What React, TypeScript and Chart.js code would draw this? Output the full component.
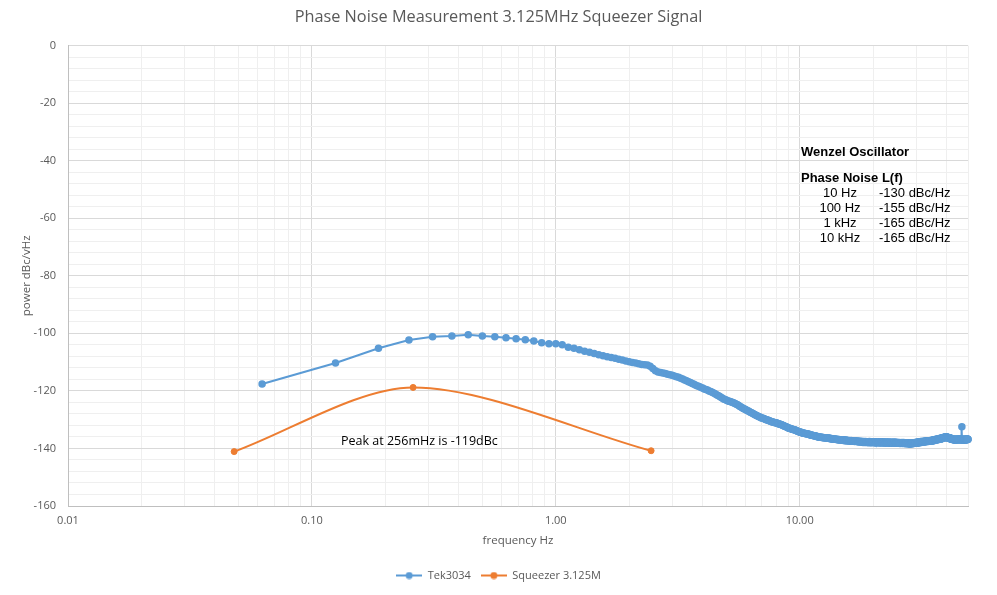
import React, { useEffect, useRef } from "react";
import Chart from "chart.js/auto";

// Tek3034 trace: one reading every 0.0625 Hz, first reading at 0.0625 Hz
const TEK_STEP = 0.0625;
const tekPower = [
  -117.6, -110.3, -105.2, -102.3, -101.2, -100.9, -100.5, -100.9, -101.2, -101.5, -101.9, -102.2, -102.7, -103.3, -103.6, -103.6,
  -104.0, -104.8, -105.2, -105.7, -106.2, -106.6, -107.0, -107.4, -107.8, -108.1, -108.4, -108.7, -109.0, -109.3, -109.6, -109.9,
  -110.1, -110.3, -110.6, -110.8, -110.9, -111.0, -111.4, -112.2, -113.0, -113.4, -113.6, -113.8, -114.0, -114.2, -114.4, -114.6,
  -114.8, -115.1, -115.3, -115.6, -115.9, -116.2, -116.5, -116.8, -117.1, -117.4, -117.7, -118.0, -118.3, -118.5, -118.8, -119.0,
  -119.3, -119.5, -119.7, -120.0, -120.2, -120.5, -120.7, -121.0, -121.3, -121.6, -121.9, -122.2, -122.5, -122.8, -123.0, -123.2,
  -123.4, -123.6, -123.7, -123.9, -124.0, -124.2, -124.4, -124.6, -124.8, -125.1, -125.4, -125.6, -125.9, -126.1, -126.3, -126.5,
  -126.7, -126.9, -127.1, -127.3, -127.5, -127.7, -127.9, -128.1, -128.3, -128.5, -128.6, -128.8, -129.0, -129.1, -129.3, -129.4,
  -129.5, -129.6, -129.8, -129.9, -130.0, -130.1, -130.2, -130.4, -130.5, -130.6, -130.7, -130.8, -130.9, -131.0, -131.1, -131.1,
  -131.2, -131.3, -131.4, -131.5, -131.6, -131.7, -131.8, -131.9, -132.0, -132.2, -132.3, -132.4, -132.5, -132.6, -132.8, -132.9,
  -133.0, -133.1, -133.1, -133.2, -133.3, -133.4, -133.4, -133.5, -133.6, -133.7, -133.8, -133.9, -134.0, -134.1, -134.2, -134.3,
  -134.4, -134.4, -134.5, -134.6, -134.6, -134.7, -134.7, -134.8, -134.8, -134.9, -134.9, -135.0, -135.0, -135.1, -135.1, -135.2,
  -135.3, -135.3, -135.4, -135.4, -135.5, -135.5, -135.6, -135.6, -135.7, -135.7, -135.8, -135.8, -135.9, -135.9, -136.0, -136.0,
  -136.0, -136.1, -136.1, -136.1, -136.2, -136.2, -136.2, -136.2, -136.3, -136.3, -136.3, -136.3, -136.4, -136.4, -136.4, -136.4,
  -136.4, -136.5, -136.5, -136.5, -136.6, -136.5, -136.6, -136.6, -136.7, -136.6, -136.7, -136.7, -136.8, -136.7, -136.8, -136.8,
  -136.8, -136.9, -136.8, -136.9, -137.0, -136.9, -137.0, -136.9, -137.0, -137.1, -137.0, -137.0, -137.1, -137.0, -137.1, -137.1,
  -137.1, -137.2, -137.1, -137.0, -137.2, -137.3, -137.2, -137.1, -137.2, -137.3, -137.2, -137.2, -137.3, -137.4, -137.2, -137.3,
  -137.3, -137.4, -137.3, -137.2, -137.4, -137.5, -137.3, -137.4, -137.5, -137.4, -137.3, -137.5, -137.6, -137.4, -137.5, -137.5,
  -137.5, -137.6, -137.4, -137.5, -137.7, -137.6, -137.5, -137.6, -137.8, -137.6, -137.5, -137.7, -137.6, -137.8, -137.7, -137.6,
  -137.6, -137.7, -137.9, -137.7, -137.6, -137.8, -137.7, -137.9, -137.8, -137.6, -137.7, -137.9, -137.8, -137.7, -137.8, -137.9,
  -137.7, -137.8, -138.0, -137.8, -137.6, -137.8, -137.9, -137.7, -137.8, -138.0, -137.9, -137.7, -137.8, -137.9, -137.8, -137.8,
  -137.9, -137.7, -137.8, -138.0, -137.9, -137.7, -137.8, -138.1, -137.9, -137.8, -137.7, -137.9, -138.0, -137.8, -137.9, -137.8,
  -137.8, -138.0, -137.9, -137.7, -137.9, -138.1, -137.8, -137.9, -138.0, -137.8, -137.7, -137.9, -138.0, -137.9, -137.8, -138.0,
  -137.9, -137.8, -138.1, -137.9, -137.8, -138.0, -138.1, -137.9, -137.8, -138.0, -137.9, -138.1, -138.0, -137.8, -137.9, -138.0,
  -138.0, -137.9, -137.8, -138.1, -138.0, -137.9, -138.2, -138.0, -137.9, -137.8, -138.0, -138.1, -137.9, -138.0, -138.1, -137.9,
  -137.9, -138.1, -138.0, -137.8, -138.0, -138.2, -138.0, -137.9, -138.1, -138.0, -137.8, -138.0, -138.1, -138.2, -137.9, -138.0,
  -138.1, -138.0, -137.9, -138.2, -138.1, -137.9, -138.0, -138.2, -138.1, -138.0, -137.9, -138.1, -138.3, -138.0, -138.1, -138.0,
  -138.0, -138.2, -138.1, -137.9, -138.1, -138.3, -138.1, -138.0, -138.2, -138.1, -137.9, -138.2, -138.3, -138.1, -138.0, -138.2,
  -138.1, -138.3, -138.0, -138.2, -138.4, -138.1, -138.0, -138.2, -138.3, -138.1, -138.2, -138.4, -138.2, -138.0, -138.2, -138.3,
  -138.2, -138.4, -138.1, -138.3, -138.5, -138.2, -138.1, -138.3, -138.2, -138.4, -138.2, -138.1, -138.3, -138.2, -138.4, -138.2,
  -138.1, -138.3, -138.2, -138.0, -138.2, -138.3, -138.1, -138.0, -138.2, -138.1, -137.9, -138.1, -138.2, -138.0, -138.1, -138.0,
  -138.0, -137.9, -138.1, -138.0, -137.8, -138.0, -138.1, -137.9, -137.8, -138.0, -137.9, -137.8, -138.0, -137.9, -137.7, -137.9,
  -137.9, -137.8, -137.7, -137.9, -137.8, -137.6, -137.8, -137.9, -137.7, -137.6, -137.8, -137.7, -137.6, -137.8, -137.7, -137.8,
  -137.7, -137.6, -137.8, -137.7, -137.5, -137.7, -137.6, -137.5, -137.7, -137.6, -137.5, -137.7, -137.6, -137.4, -137.6, -137.5,
  -137.5, -137.6, -137.4, -137.5, -137.6, -137.4, -137.3, -137.5, -137.4, -137.6, -137.5, -137.3, -137.4, -137.5, -137.3, -137.4,
  -137.4, -137.3, -137.5, -137.4, -137.2, -137.4, -137.3, -137.2, -137.4, -137.3, -137.2, -137.3, -137.4, -137.2, -137.3, -137.2,
  -137.2, -137.3, -137.1, -137.2, -137.3, -137.1, -137.0, -137.2, -137.1, -137.0, -137.2, -137.1, -137.0, -136.9, -137.1, -137.0,
  -137.0, -136.9, -137.1, -137.0, -136.8, -137.0, -136.9, -136.8, -137.0, -136.9, -136.8, -136.9, -136.7, -136.9, -136.8, -136.9,
  -136.8, -136.7, -136.9, -136.8, -136.6, -136.8, -136.7, -136.6, -136.8, -136.7, -136.5, -136.7, -136.6, -136.5, -136.7, -136.6,
  -136.6, -136.5, -136.4, -136.6, -136.5, -136.3, -136.5, -136.4, -136.3, -136.5, -136.4, -136.2, -136.4, -136.3, -136.2, -136.4,
  -136.3, -136.2, -136.1, -136.3, -136.2, -136.0, -136.2, -136.1, -136.0, -136.2, -136.1, -136.0, -135.9, -136.1, -136.0, -136.1,
  -136.1, -136.2, -136.0, -136.2, -136.3, -136.1, -136.2, -136.3, -136.2, -136.4, -136.3, -136.2, -136.4, -136.3, -136.5, -136.4,
  -136.4, -136.5, -136.3, -136.5, -136.6, -136.4, -136.5, -136.6, -136.5, -136.7, -136.6, -136.5, -136.7, -136.6, -136.8, -136.7,
  -136.7, -136.8, -136.6, -136.8, -136.9, -136.7, -136.8, -136.9, -136.7, -136.9, -137.0, -136.8, -136.9, -137.0, -136.8, -136.9,
  -136.9, -137.0, -136.8, -136.9, -137.1, -136.9, -136.8, -137.0, -136.9, -137.1, -137.0, -136.8, -136.9, -137.0, -136.9, -137.0,
  -137.0, -136.9, -136.8, -137.0, -136.9, -136.7, -136.9, -137.0, -136.8, -136.9, -137.0, -136.8, -136.7, -136.9, -136.8, -136.9,
  -136.9, -136.8, -137.0, -136.9, -136.7, -136.9, -136.8, -137.0, -136.9, -136.8, -137.0, -136.9, -136.8, -136.9, -137.0, -136.8,
  -136.9, -136.8, -137.0, -132.5, -136.9, -136.8, -137.0, -136.9, -137.1, -136.9, -136.8, -137.0, -136.9, -137.1, -137.0, -136.9,
  -137.0, -136.9, -137.1, -137.0, -136.8, -137.0, -136.9, -137.1, -137.0, -136.8, -136.9, -137.0, -136.8, -136.9, -137.0, -136.9,
  -136.9, -136.8, -137.0, -136.9, -136.7, -136.9, -136.8, -137.0, -136.9, -136.8, -136.7, -136.9, -136.8, -136.9, -136.8, -136.8,
];

// Squeezer 3.125M: three points, smoothed
const squeezerFreq = [0.048, 0.26, 2.46];
const squeezerPower = [-141.1, -118.8, -140.8];

const seriesNames = ["Tek3034", "Squeezer 3.125M"];
const seriesColors = ["#5B9BD5", "#ED7D31"];

// x grid: 1..9 per decade, labels only on the decades
const xTicks = [
  0.01, 0.02, 0.03, 0.04, 0.05, 0.06, 0.07, 0.08, 0.09,
  0.1, 0.2, 0.3, 0.4, 0.5, 0.6, 0.7, 0.8, 0.9,
  1, 2, 3, 4, 5, 6, 7, 8, 9,
  10, 20, 30, 40, 49,
];
const xLabelled = [0.01, 0.1, 1, 10];
const X_MIN = 0.01;
const X_MAX = 49;

const Y_MIN = -160;
const Y_MAX = 0;
const Y_MINOR_STEP = 4;
const Y_LABEL_STEP = 20;

const chartTitle = "Phase Noise Measurement 3.125MHz Squeezer Signal";
const xTitle = "frequency Hz";
const yTitle = "power dBc/vHz";
const peakNote = "Peak at 256mHz is -119dBc";
const wenzelTitle = "Wenzel Oscillator";
const wenzelSubtitle = "Phase Noise L(f)";
const wenzelOffsets = ["10 Hz", "100 Hz", "1 kHz", "10 kHz"];
const wenzelLevels = ["-130 dBc/Hz", "-155 dBc/Hz", "-165 dBc/Hz", "-165 dBc/Hz"];

const GRID_MAJOR = "#d9d9d9";
const GRID_MINOR = "#efefef";
const AXIS_LINE = "#bfbfbf";
const TEXT_GREY = "#595959";
const FONT = '"Open Sans", sans-serif';

function legendIcon(color: string): HTMLCanvasElement {
  const c = document.createElement("canvas");
  c.width = 26;
  c.height = 8;
  const g = c.getContext("2d");
  if (g) {
    g.strokeStyle = color;
    g.lineWidth = 2;
    g.beginPath();
    g.moveTo(0, 4);
    g.lineTo(26, 4);
    g.stroke();
    g.fillStyle = color;
    g.beginPath();
    g.arc(13, 4, 3.5, 0, Math.PI * 2);
    g.fill();
  }
  return c;
}

const notesPlugin = {
  id: "notes",
  afterDraw(chart: Chart) {
    const ctx = chart.ctx;
    ctx.save();
    ctx.fillStyle = "#000000";
    ctx.textBaseline = "middle";
    ctx.textAlign = "left";
    ctx.font = '12.5px "Open Sans"';
    ctx.fillText(peakNote, 341, 441);

    ctx.font = 'bold 13px "Liberation Sans"';
    ctx.fillText(wenzelTitle, 801, 152);
    ctx.fillText(wenzelSubtitle, 801, 178);

    ctx.font = '13px "Liberation Sans"';
    wenzelOffsets.forEach((label, i) => {
      const y = 193.5 + i * 15.1;
      ctx.textAlign = "center";
      ctx.fillText(label, 840, y);
      ctx.textAlign = "left";
      ctx.fillText(wenzelLevels[i], 879, y);
    });
    ctx.restore();
  },
};

function PhaseNoiseChart(): JSX.Element {
  const chartRef = useRef<HTMLCanvasElement | null>(null);
  const chartInstance = useRef<Chart | null>(null);

  useEffect(() => {
    if (!chartRef.current) return;
    const ctx = chartRef.current.getContext("2d");
    if (!ctx) return;
    if (chartInstance.current) chartInstance.current.destroy();

    const icons = seriesColors.map(legendIcon);

    chartInstance.current = new Chart(ctx, {
      type: "line",
      data: {
        datasets: [
          {
            label: seriesNames[0],
            data: tekPower.map((p, i) => ({ x: (i + 1) * TEK_STEP, y: p })),
            borderColor: seriesColors[0],
            backgroundColor: seriesColors[0],
            borderWidth: 2,
            pointRadius: 3,
            pointBorderWidth: 1.5,
            tension: 0,
            clip: false,
          },
          {
            label: seriesNames[1],
            data: squeezerFreq.map((f, i) => ({ x: f, y: squeezerPower[i] })),
            borderColor: seriesColors[1],
            backgroundColor: seriesColors[1],
            borderWidth: 2,
            pointRadius: 3,
            pointBorderWidth: 1,
            tension: 0.3,
            clip: false,
          },
        ],
      },
      options: {
        animation: false,
        responsive: false,
        layout: { padding: { left: 0, right: 0, top: 0, bottom: 4 } },
        plugins: {
          title: {
            display: true,
            text: chartTitle,
            color: TEXT_GREY,
            font: { family: FONT, size: 16.3, weight: "normal" },
            padding: { top: 8, bottom: 18 },
          },
          legend: {
            position: "bottom",
            labels: {
              color: TEXT_GREY,
              font: { family: FONT, size: 11 },
              usePointStyle: true,
              pointStyleWidth: 26,
              padding: 10,
              generateLabels: (chart: Chart) =>
                Chart.defaults.plugins.legend.labels.generateLabels(chart).map((item, i) => ({
                  ...item,
                  pointStyle: icons[i],
                })),
            },
          },
          tooltip: { enabled: false },
        },
        scales: {
          x: {
            type: "logarithmic",
            min: X_MIN,
            max: X_MAX,
            afterBuildTicks: (scale: any) => {
              scale.ticks = xTicks.map((v) => ({ value: v }));
            },
            afterFit: (scale: any) => {
              scale.height = 54;
            },
            ticks: {
              autoSkip: false,
              maxRotation: 0,
              padding: 8,
              color: TEXT_GREY,
              font: { family: FONT, size: 11 },
              callback: (value: any) => {
                const v = Number(value);
                return xLabelled.some((d) => Math.abs(d - v) < 1e-9) ? v.toFixed(2) : "";
              },
            },
            grid: {
              drawTicks: false,
              color: (c: any) =>
                xLabelled.some((d) => Math.abs(d - c.tick?.value) < 1e-9) ? GRID_MAJOR : GRID_MINOR,
            },
            border: { color: AXIS_LINE },
            title: {
              display: true,
              text: xTitle,
              color: TEXT_GREY,
              font: { family: FONT, size: 11.5 },
              padding: { top: 0, bottom: 12 },
            },
          },
          y: {
            type: "linear",
            min: Y_MIN,
            max: Y_MAX,
            afterFit: (scale: any) => {
              scale.width = 68;
            },
            ticks: {
              stepSize: Y_MINOR_STEP,
              autoSkip: false,
              padding: 12,
              color: TEXT_GREY,
              font: { family: FONT, size: 11 },
              callback: (value: any) => (Number(value) % Y_LABEL_STEP === 0 ? String(value) : ""),
            },
            grid: {
              drawTicks: false,
              color: (c: any) => (c.tick && c.tick.value % Y_LABEL_STEP === 0 ? GRID_MAJOR : GRID_MINOR),
            },
            border: { color: AXIS_LINE },
            title: {
              display: true,
              text: yTitle,
              color: TEXT_GREY,
              font: { family: FONT, size: 11.5 },
              padding: { top: 20, bottom: 0 },
            },
          },
          // empty strip on the right so the title and legend stay centred on the page
          gutter: {
            type: "linear",
            position: "right",
            grid: { display: false, drawOnChartArea: false },
            ticks: { display: false },
            border: { display: false },
            afterFit: (scale: any) => {
              scale.width = 29;
            },
          },
        },
      },
      plugins: [notesPlugin],
    } as any);

    return () => {
      if (chartInstance.current) {
        chartInstance.current.destroy();
        chartInstance.current = null;
      }
    };
  }, []);

  return <canvas ref={chartRef} width={997} height={595} style={{ display: "block" }} />;
}

export default function App(): JSX.Element {
  return (
    <div style={{ position: "fixed", left: 0, top: 0, width: 997, height: 595, background: "#ffffff" }}>
      <PhaseNoiseChart />
    </div>
  );
}
